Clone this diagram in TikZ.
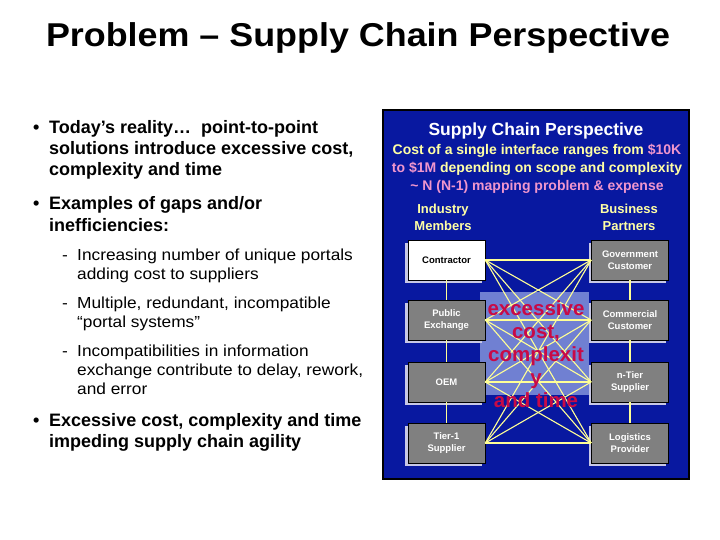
\documentclass[tikz,border=0pt]{standalone}
\usepackage{fontspec}
\setmainfont{Liberation Sans}
\usetikzlibrary{shadows}
\definecolor{panelblue}{RGB}{8,24,160}
\definecolor{lightpanel}{RGB}{112,128,210}
\definecolor{ltyellow}{RGB}{255,255,165}
\definecolor{lnyellow}{RGB}{255,255,150}
\definecolor{pinktxt}{RGB}{240,150,205}
\definecolor{redtxt}{RGB}{200,10,70}
\definecolor{boxgrey}{RGB}{128,128,128}
\definecolor{shadowc}{RGB}{200,200,230}
\tikzset{
  boxnode/.style={draw=black, line width=0.6pt, fill=boxgrey, text=white,
    minimum width=77pt, minimum height=40pt, inner sep=1pt, align=center,
    font=\fontsize{9.5}{12.5}\selectfont\bfseries,
    drop shadow={shadow xshift=-3pt, shadow yshift=-3pt, fill=shadowc, opacity=1}},
  conn/.style={draw=lnyellow, line width=1.1pt},
  bigtxt/.style={anchor=base west, inner sep=0pt, font=\fontsize{18}{21}\selectfont\bfseries},
  subtxt/.style={anchor=base west, inner sep=0pt, xscale=1.08, font=\fontsize{16}{19}\selectfont},
  paneltxt/.style={anchor=base, inner sep=0pt, font=\fontsize{14}{16}\selectfont\bfseries},
  redline/.style={anchor=base, inner sep=0pt, text=redtxt, font=\fontsize{20.5}{23}\selectfont\bfseries}
}
\begin{document}
\begin{tikzpicture}[x=1pt,y=-1pt]
\useasboundingbox[fill=white] (0,0) rectangle (720,540);
% title
\node[anchor=base, inner sep=0pt, xscale=1.087, font=\fontsize{33}{36}\selectfont\bfseries] (title) at (358,47) {Problem -- Supply Chain Perspective};
% left bullets
\node[bigtxt] (b1) at (33,134) {•};
\node[bigtxt] (t1a) at (49,134) {Today’s reality…\ \ point-to-point};
\node[bigtxt] (t1b) at (49,155) {solutions introduce excessive cost,};
\node[bigtxt] (t1c) at (49,176) {complexity and time};
\node[bigtxt] (b2) at (33,210) {•};
\node[bigtxt] (t2a) at (49,210) {Examples of gaps and/or};
\node[bigtxt] (t2b) at (49,231) {inefficiencies:};
\node[subtxt] (d1) at (62,260) {-};
\node[subtxt] (s1a) at (77,260) {Increasing number of unique portals};
\node[subtxt] (s1b) at (77,279) {adding cost to suppliers};
\node[subtxt] (d2) at (62,308) {-};
\node[subtxt] (s2a) at (77,308) {Multiple, redundant, incompatible};
\node[subtxt] (s2b) at (77,327) {“portal systems”};
\node[subtxt] (d3) at (62,356) {-};
\node[subtxt] (s3a) at (77,356) {Incompatibilities in information};
\node[subtxt] (s3b) at (77,375) {exchange contribute to delay, rework,};
\node[subtxt] (s3c) at (77,394) {and error};
\node[bigtxt] (b3) at (33,426) {•};
\node[bigtxt] (t3a) at (49,426) {Excessive cost, complexity and time};
\node[bigtxt] (t3b) at (49,447) {impeding supply chain agility};
% panel
\path[fill=panelblue, draw=black, line width=1.5pt] (383,110) rectangle (689,479);
\node[anchor=base, inner sep=0pt, text=white, font=\fontsize{17.5}{20}\selectfont\bfseries] (ptitle) at (536,136) {Supply Chain Perspective};
\node[paneltxt] (p1) at (537,155) {\textcolor{ltyellow}{Cost of a single interface ranges from} \textcolor{pinktxt}{\$10K}};
\node[paneltxt] (p2) at (537,173) {\textcolor{pinktxt}{to \$1M} \textcolor{ltyellow}{depending on scope and complexity}};
\node[paneltxt, text=pinktxt] (p3) at (537,191) {\textasciitilde\ N (N-1) mapping problem \& expense};
\node[paneltxt, text=ltyellow, font=\fontsize{13}{15}\selectfont\bfseries] (im1) at (443,214) {Industry};
\node[paneltxt, text=ltyellow, font=\fontsize{13}{15}\selectfont\bfseries] (im2) at (443,230) {Members};
\node[paneltxt, text=ltyellow, font=\fontsize{13}{15}\selectfont\bfseries] (bp1) at (629,214) {Business};
\node[paneltxt, text=ltyellow, font=\fontsize{13}{15}\selectfont\bfseries] (bp2) at (629,230) {Partners};
% light centre block
\path[fill=lightpanel] (480,292) rectangle (589,395);
% boxes
\node[boxnode, fill=white, text=black] (con) at (446.5,260) {Contractor};
\node[boxnode] (pub) at (446.5,320) {Public\\Exchange};
\node[boxnode] (oem) at (446.5,382) {OEM};
\node[boxnode] (t1) at (446.5,443) {Tier-1\\Supplier};
\node[boxnode] (gov) at (630,260) {Government\\Customer};
\node[boxnode] (com) at (630,320) {Commercial\\Customer};
\node[boxnode] (nt) at (630,382) {n-Tier\\Supplier};
\node[boxnode] (log) at (630,443) {Logistics\\Provider};
% connectors
\draw[conn] (con) -- (pub); \draw[conn] (pub) -- (oem); \draw[conn] (oem) -- (t1);
\draw[conn] (gov) -- (com); \draw[conn] (com) -- (nt); \draw[conn] (nt) -- (log);
\foreach \a in {con,pub,oem,t1}{
  \foreach \b in {gov,com,nt,log}{
    \draw[conn] (\a.east) -- (\b.west);
  }
}
% red text on top
\node[redline] (r1) at (536,315) {excessive};
\node[redline] (r2) at (536,338) {cost,};
\node[redline] (r3) at (536,361) {complexit};
\node[redline] (r4) at (536,384) {y};
\node[redline] (r5) at (536,407) {and time};
\end{tikzpicture}
\end{document}
